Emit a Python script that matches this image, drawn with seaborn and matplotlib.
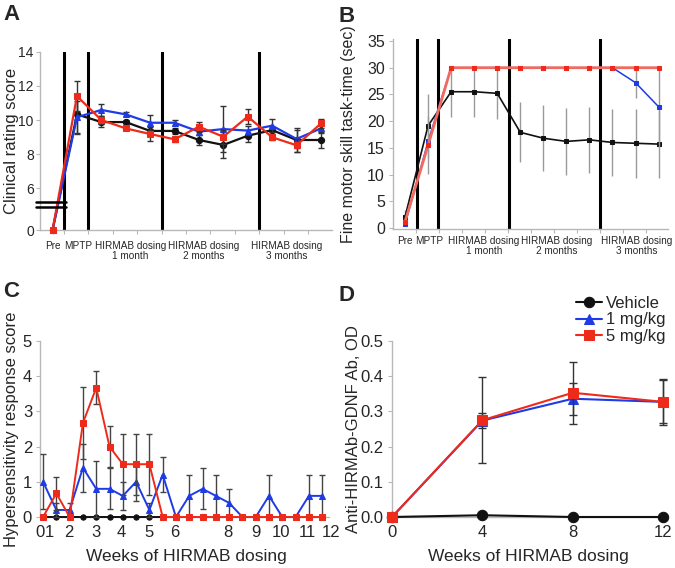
import numpy as np
import pandas as pd
import matplotlib
matplotlib.use("Agg")
import matplotlib.pyplot as plt
import seaborn as sns

sns.set_style("white")
plt.rcParams['font.family'] = ['Liberation Sans', 'DejaVu Sans']

# ---------------- data ----------------
# Panel A: clinical rating score (index 0 = Pre, 1 = MPTP, 2..11 = dosing visits)
a_visit = [0, 1, 2, 3, 4, 5, 6, 7, 8, 9, 10, 11]
a_vehicle = [0, 10.33, 9.88, 9.88, 9.36, 9.36, 8.83, 8.54, 9.08, 9.41, 8.83, 8.83]
a_vehicle_err = [0, 1.1, 0.3, 0.15, 0.3, 0.15, 0.28, 0.78, 0.35, 0.2, 0.68, 0.49]
a_1mg = [0, 10.16, 10.59, 10.33, 9.84, 9.84, 9.32, 9.47, 9.38, 9.67, 8.89, 9.51]
a_1mg_err = [0, 0.95, 0.35, 0.12, 0.45, 0.15, 0.2, 1.35, 0.25, 0.37, 0.5, 0.25]
a_5mg = [0, 11.4, 10.0, 9.51, 9.18, 8.87, 9.61, 9.02, 10.2, 8.99, 8.52, 9.8]
a_5mg_err = [0, 0.87, 0.25, 0.12, 0.4, 0.15, 0.29, 0.4, 0.42, 0.16, 0.38, 0.24]
a_ticks = [0, 6, 8, 10, 12, 14]
a_cat_labels = ["Pre", "MPTP", "HIRMAB dosing\n1 month", "HIRMAB dosing\n2 months",
                "HIRMAB dosing\n3 months"]

# Panel B: fine motor skill task-time (sec)
b_visit = [0, 1, 2, 3, 4, 5, 6, 7, 8, 9, 10, 11]
b_vehicle = [2.1, 19.15, 25.5, 25.5, 25.2, 17.9, 16.8, 16.2, 16.5, 16.0, 15.85, 15.7]
b_vehicle_err = [1.2, 6.0, 4.7, 4.8, 4.8, 5.6, 6.15, 6.3, 6.2, 6.35, 6.45, 6.4]
b_1mg = [0.7, 16.2, 30, 30, 30, 30, 30, 30, 30, 30, 27.2, 22.7]
b_1mg_err = [0, 0, 0, 0, 0, 0, 0, 0, 0, 0, 2.9, 7.5]
b_5mg = [1.2, 15.5, 30, 30, 30, 30, 30, 30, 30, 30, 30, 30]
b_5mg_err = [0, 5.4, 0, 0, 0, 0, 0, 0, 0, 0, 0, 0]
b_ticks = [0, 5, 10, 15, 20, 25, 30, 35]
b_cat_labels = a_cat_labels

# Panel C: hypersensitivity response score, every half week
c_week = [1, 1.5, 2, 2.5, 3, 3.5, 4, 4.5, 5, 5.5, 6, 6.5, 7, 7.5, 8, 8.5,
          9, 9.5, 10, 10.5, 11, 11.5]
c_vehicle = [0, 0, 0, 0, 0, 0, 0, 0, 0, 0, np.nan, np.nan, np.nan, np.nan,
             np.nan, np.nan, np.nan, np.nan, np.nan, np.nan, np.nan, np.nan]
c_1mg = [1.0, 0.2, 0.2, 1.4, 0.8, 0.8, 0.6, 1.0, 0.2, 1.2, 0, 0.6, 0.8, 0.6,
         0.4, 0, 0, 0.6, 0, 0, 0.6, 0.6]
c_1mg_err = [0.78, 0.2, 0.2, 0.68, 0.8, 0.58, 0.4, 0.55, 0.2, 0.5, 0, 0.6,
             0.58, 0.6, 0.4, 0, 0, 0.6, 0, 0, 0.6, 0.6]
c_5mg = [0, 0.67, 0, 2.67, 3.67, 2.0, 1.5, 1.5, 1.5, 0, 0, 0, 0, 0, 0, 0,
         0, 0, 0, 0, 0, 0]
c_5mg_err = [0, 0.47, 0, 1.03, 0.47, 0.58, 0.87, 0.87, 0.87, 0, 0, 0, 0, 0,
             0, 0, 0, 0, 0, 0, 0, 0]
c_tick_labels = ["0", "1", "2", "3", "4", "5", "6", "8", "9", "10", "11", "12"]
c_tick_pos = [0.9, 1.22, 1.97, 3.0, 3.96, 4.97, 5.96, 7.96, 9.0, 9.97, 10.95, 11.85]

# Panel D: anti-HIRMAb-GDNF antibody, OD
d_week = [0, 4, 8, 12]
d_vehicle = [0, 0.005, 0, 0]
d_1mg = [0, 0.274, 0.336, 0.327]
d_1mg_err = [0, 0.022, 0.045, 0.061]
d_5mg = [0, 0.275, 0.353, 0.327]
d_5mg_err = [0, 0.122, 0.088, 0.065]
d_ticks = [0, 0.1, 0.2, 0.3, 0.4, 0.5]

# phase separators (visit-index units) for A and B
a_phase_lines = [0.47, 1.47, 4.47, 8.47]
b_phase_lines = [0.5, 1.45, 4.49, 8.46]

BLACK = '#111111'
BLUE = '#1f3be6'
RED = '#ee2a1a'
AXC = '#b8b8b8'

# ---------------- figure ----------------
W, H = 675, 568
fig = plt.figure(figsize=(W / 100, H / 100), dpi=100)


def rect(l, r, t, b):
    return [l / W, 1 - b / H, (r - l) / W, (b - t) / H]


axA = fig.add_axes(rect(40.1, 331.9, 51.7, 230))
axB = fig.add_axes(rect(393.3, 668, 39.4, 229))
axC = fig.add_axes(rect(40.4, 332.8, 341, 517))
axD = fig.add_axes(rect(392, 665.5, 341, 517))


def style(ax):
    for s in ['top', 'right']:
        ax.spines[s].set_visible(False)
    for s in ['left', 'bottom']:
        ax.spines[s].set_color(AXC)
        ax.spines[s].set_linewidth(1.0)
    ax.tick_params(which='both', bottom=True, left=True, direction='out',
                   length=3, width=0.8, color=AXC, pad=3)


def series(ax, x, y, color, marker, ms, lw, err=None, ecolor='#333333',
           capsize=2, z=3, label=None, **kw):
    df = pd.DataFrame({'x': x, 'y': y})
    if err is not None:
        e = np.asarray(err, float)
        m = e > 0
        ax.errorbar(np.asarray(x, float)[m], np.asarray(y, float)[m], yerr=e[m],
                    fmt='none', ecolor=ecolor, elinewidth=1.0, capsize=capsize,
                    capthick=1.0, zorder=z - 0.5, clip_on=False)
    sns.lineplot(data=df, x='x', y='y', ax=ax, color=color, marker=marker,
                 markersize=ms, linewidth=lw, markeredgecolor=kw.pop('mec', color),
                 markerfacecolor=kw.pop('mfc', color), zorder=z, clip_on=False,
                 label=label, legend=False, **kw)


def ylabel_at(ax, text, size, right_px, ax_left_px, ax_width_px):
    ax.set_ylabel(text, fontsize=size)
    ax.yaxis.set_label_coords((right_px - ax_left_px) / ax_width_px, 0.5)


# ---------- Panel A ----------
Z0 = 3.56  # display position of value 0 below the axis break


def a_fwd(v):
    v = np.asarray(v, float)
    return np.where(v >= 6, v, Z0 + v * (6 - Z0) / 6)


def a_inv(f):
    f = np.asarray(f, float)
    return np.where(f >= 6, f, (f - Z0) * 6 / (6 - Z0))


style(axA)
axA.set_yscale('function', functions=(a_fwd, a_inv))
for xv in a_phase_lines:
    axA.axvline(xv, color='black', lw=2.2, zorder=2)
series(axA, a_visit, a_vehicle, BLACK, 'o', 4.5, 1.6, a_vehicle_err, z=3)
series(axA, a_visit, a_1mg, BLUE, '^', 5, 1.6, a_1mg_err, z=4)
series(axA, a_visit, a_5mg, RED, 's', 4.5, 1.6, a_5mg_err, z=5)
axA.set_xlim(-0.51, 11.45)
axA.set_ylim(0, 14)
axA.set_yticks(a_ticks)
axA.set_yticklabels([str(t) for t in a_ticks], fontsize=10)
axA.tick_params(axis='y', pad=1.5)
axA.yaxis.set_minor_locator(matplotlib.ticker.NullLocator())
axA.set_xticks([0, 1.06, 3.2, 6.2, 9.6])
axA.set_xticklabels(a_cat_labels, fontsize=7.2, linespacing=1.0)
axA.set_xticks([0.47 + k for k in range(11)], minor=True)
axA.tick_params(axis='x', which='major', length=0, pad=8)
axA.set_xlabel('')
ylabel_at(axA, 'Clinical rating score', 12, 19, 40.1, 291.8)
for yy in (0.155, 0.131):
    axA.plot([-0.014, 0.089], [yy, yy], color='black', lw=1.8,
             transform=axA.transAxes, clip_on=False, zorder=6)

# ---------- Panel B ----------
style(axB)
for xv in b_phase_lines:
    axB.axvline(xv, color='black', lw=2.2, zorder=2)
series(axB, b_visit, b_vehicle, BLACK, 's', 2.8, 1.2, b_vehicle_err,
       ecolor='#9a9a9a', capsize=0, z=3)
series(axB, b_visit, b_1mg, BLUE, 's', 2.5, 1.1, b_1mg_err,
       ecolor='#9a9a9a', capsize=0, z=4)
series(axB, b_visit, b_5mg, '#f06a60', 's', 3.2, 2.0, b_5mg_err,
       ecolor='#9a9a9a', capsize=0, z=5, mec=RED, mfc=RED)
axB.set_xlim(-0.51, 11.41)
axB.set_ylim(-0.2, 35.3)
axB.set_yticks(b_ticks)
axB.set_yticklabels([str(t) for t in b_ticks], fontsize=11.5)
axB.set_xticks([0, 1.04, 3.43, 6.58, 10.05])
axB.set_xticklabels(b_cat_labels, fontsize=7.2, linespacing=1.0)
axB.set_xticks([0.47 + k for k in range(11)], minor=True)
axB.tick_params(axis='x', which='major', length=0, pad=5)
axB.set_xlabel('')
ylabel_at(axB, 'Fine motor skill task-time (sec)', 11.5, 356, 393.3, 274.7)

# ---------- Panel C ----------
style(axC)
series(axC, c_week, c_vehicle, BLACK, 'o', 3.8, 1.4, z=3)
series(axC, c_week, c_1mg, BLUE, '^', 4.2, 1.4, c_1mg_err, ecolor='#444444', z=4)
series(axC, c_week, c_5mg, RED, 's', 4.0, 1.4, c_5mg_err, ecolor='#444444', z=5)
axC.set_xlim(0.95, 11.9)
axC.spines['bottom'].set_bounds(0.95, 11.75)
axC.set_ylim(0, 5)
axC.set_yticks([0, 1, 2, 3, 4, 5])
axC.set_yticklabels(['0', '1', '2', '3', '4', '5'], fontsize=12)
axC.set_xticks(c_tick_pos)
axC.set_xticklabels(c_tick_labels, fontsize=12)
axC.tick_params(axis='x', length=0, pad=6)
axC.set_xlabel('Weeks of HIRMAB dosing', fontsize=12.5, labelpad=6)
ylabel_at(axC, 'Hypersensitivity response score', 12, 19.5, 40.4, 292.4)

# ---------- Panel D ----------
style(axD)
series(axD, d_week, d_vehicle, BLACK, 'o', 7.5, 1.5, z=3, label='Vehicle')
series(axD, d_week, d_1mg, BLUE, '^', 7.5, 1.5, d_1mg_err, ecolor='#333333',
       capsize=3, z=4, label='1 mg/kg')
series(axD, d_week, d_5mg, RED, 's', 7.0, 1.5, d_5mg_err, ecolor='#333333',
       capsize=3, z=5, label='5 mg/kg')
axD.set_xlim(0, 12.1)
axD.set_ylim(0, 0.5)
axD.set_yticks(d_ticks)
axD.set_yticklabels([f'{t:.1f}' for t in d_ticks], fontsize=12)
axD.set_xticks(d_week)
axD.set_xticklabels([str(w) for w in d_week], fontsize=12)
axD.tick_params(axis='x', length=0, pad=6)
axD.set_xlabel('Weeks of HIRMAB dosing', fontsize=12.5, labelpad=6)
ylabel_at(axD, 'Anti-HIRMAb-GDNF Ab, OD', 12, 361.5, 392, 273.5)
handles, labels = axD.get_legend_handles_labels()
fig.legend(handles, labels, loc='upper left', bbox_to_anchor=(576 / W, 1 - 296 / H),
           frameon=False, fontsize=12, handlelength=1.55, handletextpad=0.25,
           labelspacing=0.08, borderpad=0, borderaxespad=0)

# ---------- panel letters ----------
for txt, px, py in [('A', 3, 4), ('B', 339, 6), ('C', 3, 281), ('D', 338, 285)]:
    fig.text(px / W, 1 - py / H, txt, fontsize=16, fontweight='bold',
             ha='left', va='top')

fig.savefig('out.png', dpi=100)
